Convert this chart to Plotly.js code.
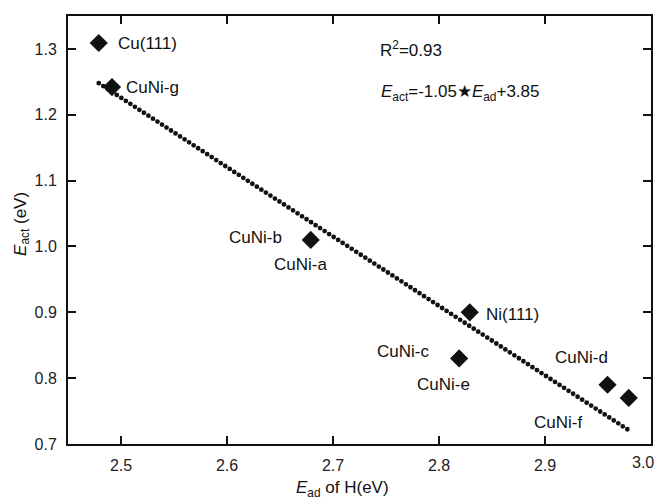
<!DOCTYPE html>
<html>
<head>
<meta charset="utf-8">
<script src="https://cdn.plot.ly/plotly-3.0.1.min.js"></script>
<style>
html,body{margin:0;padding:0;background:#fff;}
#chart{width:656px;height:499px;}
.js-line{stroke-linecap:round !important;}
</style>
</head>
<body>
<div id="chart"></div>
<script>
// Data points
const labels = ["Cu(111)", "CuNi-g", "CuNi-a/b", "Ni(111)", "CuNi-c/e", "CuNi-d", "CuNi-f"];
const ead = [2.479, 2.4915, 2.679, 2.829, 2.819, 2.959, 2.979];
const eact = [1.309, 1.242, 1.010, 0.900, 0.830, 0.790, 0.770];

// Fitted line endpoints (Eact = -1.05*Ead + 3.85)
const fitX = [2.479, 2.978];
const fitY = [1.248, 0.722];

// Tick values and labels
const xTicks = [2.5, 2.6, 2.7, 2.8, 2.9, 3.0];
const xTickText = ["2.5", "2.6", "2.7", "2.8", "2.9", ""];
const lastXTickText = "3.0";
const yTicks = [0.7, 0.8, 0.9, 1.0, 1.1, 1.2, 1.3];

const FONT = "Liberation Sans, Arial, Helvetica, sans-serif";
const lab = (text, x, y) => ({text, x, y, xref: 'x', yref: 'y', showarrow: false,
  xanchor: 'center', yanchor: 'middle', font: {family: FONT, size: 17, color: '#111'}});

const traces = [
  {x: fitX, y: fitY, mode: 'lines', type: 'scatter',
   line: {color: '#111', width: 4.8, dash: '0px,5.4px'}, hoverinfo: 'skip'},
  {x: ead, y: eact, mode: 'markers', type: 'scatter', text: labels,
   marker: {symbol: 'diamond', size: 14, color: '#111'}}
];

const axisCommon = {
  showgrid: false, zeroline: false, showline: true, linecolor: '#111', linewidth: 2,
  mirror: 'ticks', ticks: 'inside', ticklen: 8, tickwidth: 2, tickcolor: '#111',
  tickfont: {family: FONT, size: 16, color: '#222'}, tickformat: '.1f', ticklabelstandoff: 6
};

const layout = {
  width: 656, height: 499,
  margin: {l: 68, r: 5, t: 16, b: 55},
  paper_bgcolor: '#fff', plot_bgcolor: '#fff',
  showlegend: false,
  xaxis: Object.assign({}, axisCommon, {range: [2.45, 3.0], tickmode: 'array',
    tickvals: xTicks, ticktext: xTickText}),
  yaxis: Object.assign({}, axisCommon, {range: [0.7, 1.35], tickvals: yTicks}),
  annotations: [
    lab('Cu(111)', 2.525, 1.309),
    lab('CuNi-g', 2.530, 1.242),
    lab('CuNi-b', 2.627, 1.014),
    lab('CuNi-a', 2.669, 0.972),
    lab('Ni(111)', 2.869, 0.897),
    lab('CuNi-c', 2.766, 0.840),
    lab('CuNi-e', 2.804, 0.790),
    lab('CuNi-d', 2.934, 0.831),
    lab('CuNi-f', 2.912, 0.733),
    lab('R<sup>2</sup>=0.93', 2.774, 1.300),
    lab('<i>E</i><sub>act</sub>=-1.05\u2605<i>E</i><sub>ad</sub>+3.85', 2.820, 1.233),
    {text: lastXTickText, xref: 'paper', yref: 'paper', x: 1.0085, y: -0.044,
     showarrow: false, xanchor: 'right', yanchor: 'middle', font: {family: FONT, size: 16, color: '#222'}},
    {text: '<i>E</i><sub>ad</sub> of H(eV)', xref: 'paper', yref: 'paper', x: 0.47, y: -0.105,
     showarrow: false, xanchor: 'center', yanchor: 'middle', font: {family: FONT, size: 17, color: '#111'}},
    {text: '<i>E</i><sub>act</sub> (eV)', xref: 'paper', yref: 'paper', x: -0.079, y: 0.514,
     textangle: -90, showarrow: false, xanchor: 'center', yanchor: 'middle', font: {family: FONT, size: 17, color: '#111'}}
  ]
};

Plotly.newPlot('chart', traces, layout, {displayModeBar: false, staticPlot: true});
</script>
</body>
</html>
